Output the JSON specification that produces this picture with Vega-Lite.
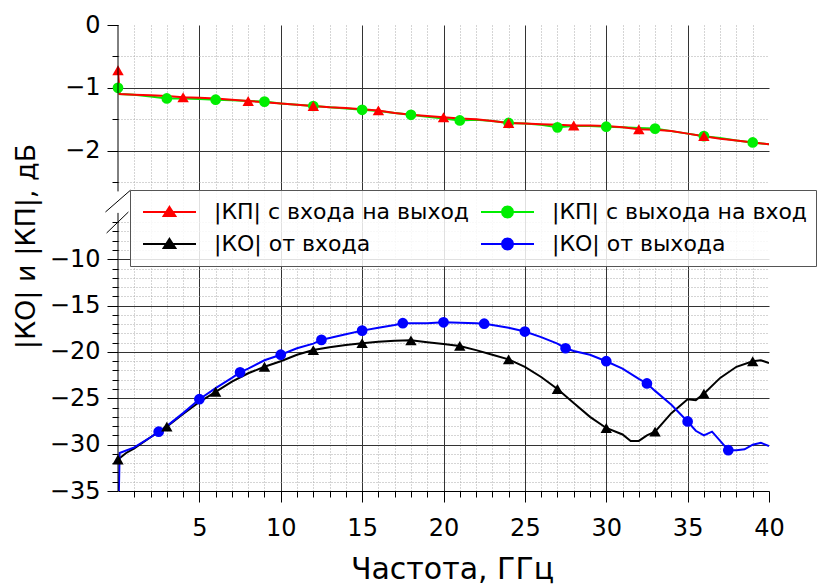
{
  "$schema": "https://vega.github.io/schema/vega-lite/v6.json",
  "width": 651,
  "height": 466,
  "autosize": {"type": "none"},
  "padding": {"left": 118, "top": 25, "right": 52, "bottom": 94},
  "background": "white",
  "config": {"view": {"stroke": null}, "font": "DejaVu Sans"},
  "datasets": {
    "curves": [
      {"s":"|КП| с выхода на вход","f":0,"v":-1.0},{"s":"|КП| с выхода на вход","f":0.1,"v":-1.1},{"s":"|КП| с выхода на вход","f":1,"v":-1.11},{"s":"|КП| с выхода на вход","f":2,"v":-1.14},{"s":"|КП| с выхода на вход","f":3,"v":-1.17},{"s":"|КП| с выхода на вход","f":4,"v":-1.17},{"s":"|КП| с выхода на вход","f":5,"v":-1.18},{"s":"|КП| с выхода на вход","f":6,"v":-1.19},{"s":"|КП| с выхода на вход","f":7,"v":-1.2},{"s":"|КП| с выхода на вход","f":8,"v":-1.21},{"s":"|КП| с выхода на вход","f":9,"v":-1.22},{"s":"|КП| с выхода на вход","f":10,"v":-1.25},{"s":"|КП| с выхода на вход","f":11,"v":-1.27},{"s":"|КП| с выхода на вход","f":12,"v":-1.29},{"s":"|КП| с выхода на вход","f":13,"v":-1.31},{"s":"|КП| с выхода на вход","f":14,"v":-1.33},{"s":"|КП| с выхода на вход","f":15,"v":-1.35},{"s":"|КП| с выхода на вход","f":16,"v":-1.37},{"s":"|КП| с выхода на вход","f":17,"v":-1.4},{"s":"|КП| с выхода на вход","f":18,"v":-1.43},{"s":"|КП| с выхода на вход","f":19,"v":-1.46},{"s":"|КП| с выхода на вход","f":20,"v":-1.49},{"s":"|КП| с выхода на вход","f":21,"v":-1.52},{"s":"|КП| с выхода на вход","f":22,"v":-1.51},{"s":"|КП| с выхода на вход","f":23,"v":-1.53},{"s":"|КП| с выхода на вход","f":24,"v":-1.56},{"s":"|КП| с выхода на вход","f":25,"v":-1.57},{"s":"|КП| с выхода на вход","f":26,"v":-1.59},{"s":"|КП| с выхода на вход","f":27,"v":-1.63},{"s":"|КП| с выхода на вход","f":28,"v":-1.61},{"s":"|КП| с выхода на вход","f":29,"v":-1.61},{"s":"|КП| с выхода на вход","f":30,"v":-1.62},{"s":"|КП| с выхода на вход","f":31,"v":-1.63},{"s":"|КП| с выхода на вход","f":32,"v":-1.64},{"s":"|КП| с выхода на вход","f":33,"v":-1.65},{"s":"|КП| с выхода на вход","f":34,"v":-1.69},{"s":"|КП| с выхода на вход","f":35,"v":-1.73},{"s":"|КП| с выхода на вход","f":36,"v":-1.77},{"s":"|КП| с выхода на вход","f":37,"v":-1.8},{"s":"|КП| с выхода на вход","f":38,"v":-1.84},{"s":"|КП| с выхода на вход","f":39,"v":-1.87},{"s":"|КП| с выхода на вход","f":40,"v":-1.9},
      {"s":"|КП| с входа на выход","f":0,"v":-0.72},{"s":"|КП| с входа на выход","f":0.1,"v":-1.1},{"s":"|КП| с входа на выход","f":1,"v":-1.11},{"s":"|КП| с входа на выход","f":2,"v":-1.12},{"s":"|КП| с входа на выход","f":3,"v":-1.13},{"s":"|КП| с входа на выход","f":4,"v":-1.15},{"s":"|КП| с входа на выход","f":5,"v":-1.16},{"s":"|КП| с входа на выход","f":6,"v":-1.17},{"s":"|КП| с входа на выход","f":7,"v":-1.19},{"s":"|КП| с входа на выход","f":8,"v":-1.21},{"s":"|КП| с входа на выход","f":9,"v":-1.23},{"s":"|КП| с входа на выход","f":10,"v":-1.25},{"s":"|КП| с входа на выход","f":11,"v":-1.27},{"s":"|КП| с входа на выход","f":12,"v":-1.29},{"s":"|КП| с входа на выход","f":13,"v":-1.31},{"s":"|КП| с входа на выход","f":14,"v":-1.32},{"s":"|КП| с входа на выход","f":15,"v":-1.34},{"s":"|КП| с входа на выход","f":16,"v":-1.36},{"s":"|КП| с входа на выход","f":17,"v":-1.4},{"s":"|КП| с входа на выход","f":18,"v":-1.43},{"s":"|КП| с входа на выход","f":19,"v":-1.45},{"s":"|КП| с входа на выход","f":20,"v":-1.47},{"s":"|КП| с входа на выход","f":21,"v":-1.49},{"s":"|КП| с входа на выход","f":22,"v":-1.5},{"s":"|КП| с входа на выход","f":23,"v":-1.53},{"s":"|КП| с входа на выход","f":24,"v":-1.56},{"s":"|КП| с входа на выход","f":25,"v":-1.57},{"s":"|КП| с входа на выход","f":26,"v":-1.58},{"s":"|КП| с входа на выход","f":27,"v":-1.59},{"s":"|КП| с входа на выход","f":28,"v":-1.6},{"s":"|КП| с входа на выход","f":29,"v":-1.6},{"s":"|КП| с входа на выход","f":30,"v":-1.61},{"s":"|КП| с входа на выход","f":31,"v":-1.63},{"s":"|КП| с входа на выход","f":32,"v":-1.66},{"s":"|КП| с входа на выход","f":33,"v":-1.67},{"s":"|КП| с входа на выход","f":34,"v":-1.69},{"s":"|КП| с входа на выход","f":35,"v":-1.73},{"s":"|КП| с входа на выход","f":36,"v":-1.77},{"s":"|КП| с входа на выход","f":37,"v":-1.81},{"s":"|КП| с входа на выход","f":38,"v":-1.84},{"s":"|КП| с входа на выход","f":39,"v":-1.87},{"s":"|КП| с входа на выход","f":40,"v":-1.9},
      {"s":"|КО| от входа","f":0,"v":-31.6},{"s":"|КО| от входа","f":0.5,"v":-30.9},{"s":"|КО| от входа","f":1,"v":-30.4},{"s":"|КО| от входа","f":2,"v":-29.2},{"s":"|КО| от входа","f":3,"v":-28.05},{"s":"|КО| от входа","f":4,"v":-26.7},{"s":"|КО| от входа","f":5,"v":-25.4},{"s":"|КО| от входа","f":6,"v":-24.3},{"s":"|КО| от входа","f":7,"v":-23.2},{"s":"|КО| от входа","f":8,"v":-22.3},{"s":"|КО| от входа","f":9,"v":-21.6},{"s":"|КО| от входа","f":10,"v":-21.0},{"s":"|КО| от входа","f":11,"v":-20.3},{"s":"|КО| от входа","f":12,"v":-19.8},{"s":"|КО| от входа","f":13,"v":-19.5},{"s":"|КО| от входа","f":14,"v":-19.25},{"s":"|КО| от входа","f":15,"v":-19.05},{"s":"|КО| от входа","f":16,"v":-18.9},{"s":"|КО| от входа","f":17,"v":-18.8},{"s":"|КО| от входа","f":18,"v":-18.75},{"s":"|КО| от входа","f":19,"v":-18.95},{"s":"|КО| от входа","f":20,"v":-19.15},{"s":"|КО| от входа","f":21,"v":-19.35},{"s":"|КО| от входа","f":22,"v":-19.8},{"s":"|КО| от входа","f":23,"v":-20.3},{"s":"|КО| от входа","f":24,"v":-20.8},{"s":"|КО| от входа","f":25,"v":-21.6},{"s":"|КО| от входа","f":26,"v":-22.7},{"s":"|КО| от входа","f":27,"v":-24.0},{"s":"|КО| от входа","f":28,"v":-25.5},{"s":"|КО| от входа","f":29,"v":-27.0},{"s":"|КО| от входа","f":30,"v":-28.2},{"s":"|КО| от входа","f":31,"v":-28.9},{"s":"|КО| от входа","f":31.5,"v":-29.6},{"s":"|КО| от входа","f":32,"v":-29.6},{"s":"|КО| от входа","f":32.5,"v":-29.0},{"s":"|КО| от входа","f":33,"v":-28.6},{"s":"|КО| от входа","f":34,"v":-26.6},{"s":"|КО| от входа","f":35,"v":-25.1},{"s":"|КО| от входа","f":35.5,"v":-25.2},{"s":"|КО| от входа","f":36,"v":-24.5},{"s":"|КО| от входа","f":37,"v":-22.8},{"s":"|КО| от входа","f":38,"v":-21.6},{"s":"|КО| от входа","f":39,"v":-21.0},{"s":"|КО| от входа","f":39.5,"v":-20.9},{"s":"|КО| от входа","f":40,"v":-21.2},
      {"s":"|КО| от выхода","f":0,"v":-40},{"s":"|КО| от выхода","f":0.1,"v":-30.9},{"s":"|КО| от выхода","f":1,"v":-30.3},{"s":"|КО| от выхода","f":2,"v":-29.2},{"s":"|КО| от выхода","f":2.5,"v":-28.6},{"s":"|КО| от выхода","f":3,"v":-28.0},{"s":"|КО| от выхода","f":4,"v":-26.6},{"s":"|КО| от выхода","f":5,"v":-25.1},{"s":"|КО| от выхода","f":6,"v":-23.9},{"s":"|КО| от выхода","f":7,"v":-22.8},{"s":"|КО| от выхода","f":7.5,"v":-22.2},{"s":"|КО| от выхода","f":8,"v":-21.8},{"s":"|КО| от выхода","f":9,"v":-20.9},{"s":"|КО| от выхода","f":10,"v":-20.3},{"s":"|КО| от выхода","f":11,"v":-19.6},{"s":"|КО| от выхода","f":12,"v":-19.1},{"s":"|КО| от выхода","f":12.5,"v":-18.7},{"s":"|КО| от выхода","f":13,"v":-18.5},{"s":"|КО| от выхода","f":14,"v":-18.1},{"s":"|КО| от выхода","f":15,"v":-17.7},{"s":"|КО| от выхода","f":16,"v":-17.4},{"s":"|КО| от выхода","f":17,"v":-17.1},{"s":"|КО| от выхода","f":17.5,"v":-16.9},{"s":"|КО| от выхода","f":18,"v":-16.9},{"s":"|КО| от выхода","f":19,"v":-16.9},{"s":"|КО| от выхода","f":20,"v":-16.8},{"s":"|КО| от выхода","f":21,"v":-16.85},{"s":"|КО| от выхода","f":22,"v":-16.9},{"s":"|КО| от выхода","f":22.5,"v":-16.95},{"s":"|КО| от выхода","f":23,"v":-17.1},{"s":"|КО| от выхода","f":24,"v":-17.4},{"s":"|КО| от выхода","f":25,"v":-17.8},{"s":"|КО| от выхода","f":26,"v":-18.4},{"s":"|КО| от выхода","f":27,"v":-19.1},{"s":"|КО| от выхода","f":27.5,"v":-19.6},{"s":"|КО| от выхода","f":28,"v":-19.9},{"s":"|КО| от выхода","f":29,"v":-20.3},{"s":"|КО| от выхода","f":30,"v":-21.0},{"s":"|КО| от выхода","f":31,"v":-21.8},{"s":"|КО| от выхода","f":32,"v":-22.9},{"s":"|КО| от выхода","f":32.5,"v":-23.4},{"s":"|КО| от выхода","f":33,"v":-24.2},{"s":"|КО| от выхода","f":34,"v":-25.7},{"s":"|КО| от выхода","f":35,"v":-27.5},{"s":"|КО| от выхода","f":35.5,"v":-28.5},{"s":"|КО| от выхода","f":36,"v":-29.0},{"s":"|КО| от выхода","f":36.5,"v":-28.6},{"s":"|КО| от выхода","f":37,"v":-29.6},{"s":"|КО| от выхода","f":37.5,"v":-30.6},{"s":"|КО| от выхода","f":38,"v":-30.6},{"s":"|КО| от выхода","f":38.5,"v":-30.5},{"s":"|КО| от выхода","f":39,"v":-30.0},{"s":"|КО| от выхода","f":39.5,"v":-29.8},{"s":"|КО| от выхода","f":40,"v":-30.15}
    ],
    "frame": [
      {"x": 0, "x2": 0, "y": 0, "y2": -2.65},
      {"x": 0, "x2": 0, "y": -5, "y2": -35},
      {"x": -0.77, "x2": 0.77, "y": -4.9, "y2": -2.63},
      {"x": -0.7, "x2": 0.64, "y": -7.17, "y2": -4.9}
    ]
  },
  "layer": [
    {
      "data": {"name": "curves"},
      "mark": {"type": "line", "strokeWidth": 2, "clip": true},
      "encoding": {
        "x": {"field": "f", "type": "quantitative",
          "scale": {"domain": [0, 40], "nice": false, "zero": false},
          "axis": {"orient": "bottom", "values": [5, 10, 15, 20, 25, 30, 35, 40], "grid": false,
            "domain": true, "domainColor": "black", "domainWidth": 1,
            "ticks": true, "tickSize": 11, "tickColor": "black", "tickWidth": 1,
            "labelFont": "DejaVu Sans", "labelFontSize": 24, "labelColor": "black", "labelPadding": 14,
            "labelFlush": false, "labelOverlap": false,
            "title": "Частота, ГГц", "titleFont": "DejaVu Sans", "titleFontSize": 30, "titleFontWeight": "normal",
            "titleColor": "black", "titleX": 334, "titleY": 87, "titleAlign": "center", "titleBaseline": "alphabetic", "titleAngle": 0}},
        "y": {"field": "v", "type": "quantitative",
          "scale": {"domain": [-35, -5, -2.65, 0], "range": [466, 187.9, 166.4, 0], "nice": false, "zero": false},
          "axis": {"orient": "left", "values": [0, -1, -2, -10, -15, -20, -25, -30, -35], "grid": false,
            "domain": false, "ticks": true, "tickSize": 11, "tickColor": "black", "tickWidth": 1,
            "labelFont": "DejaVu Sans", "labelFontSize": 24, "labelColor": "black", "labelPadding": 7,
            "labelFlush": false, "labelOverlap": false,
            "title": "|КО| и |КП|, дБ", "titleFont": "DejaVu Sans", "titleFontSize": 27, "titleFontWeight": "normal",
            "titleColor": "black", "titleAngle": 270, "titleX": -84, "titleY": 221, "titleAlign": "center", "titleBaseline": "alphabetic"}},
        "color": {"field": "s", "type": "nominal",
          "scale": {"domain": ["|КП| с входа на выход", "|КП| с выхода на вход", "|КО| от входа", "|КО| от выхода"],
                    "range": ["#ff0000", "#00ee00", "#000000", "#0000ff"]},
          "legend": {"orient": "none", "legendX": 12, "legendY": 165, "columns": 2, "direction": "horizontal", "title": null,
            "padding": 8, "fillColor": "rgba(255,255,255,0.85)", "strokeColor": "#555",
            "labelFont": "DejaVu Sans", "labelFontSize": 22, "labelColor": "black", "labelOffset": 17, "labelLimit": 600,
            "symbolSize": 2809, "symbolStrokeWidth": 2, "symbolOffset": 4,
            "columnPadding": 6, "rowPadding": 4, "clipHeight": 28,
            "encode": {"symbols": {"update": {
              "shape": {"signal": "(datum.value == '|КП| с входа на выход' || datum.value == '|КО| от входа') ? 'M-1,0L1,0M0,-0.19L0.22,0.15L-0.22,0.15Z' : 'M-1,0L1,0M0.21,0L0.182,0.105L0.105,0.182L0,0.21L-0.105,0.182L-0.182,0.105L-0.21,0L-0.182,-0.105L-0.105,-0.182L0,-0.21L0.105,-0.182L0.182,-0.105Z'"},
              "fill": {"signal": "scale('color', datum.value)"},
              "stroke": {"signal": "scale('color', datum.value)"},
              "opacity": {"value": 1}}}}}}
      }
    },
    {
      "data": {"name": "curves"},
      "transform": [{"filter": "(datum.s == '|КП| с выхода на вход' && datum.f % 3 == 0) || (datum.s == '|КО| от выхода' && datum.f % 2.5 == 0 && datum.f > 0 && datum.f < 40)"}],
      "mark": {"type": "point", "shape": "circle", "filled": true, "size": 115, "opacity": 1},
      "encoding": {
        "x": {"field": "f", "type": "quantitative",
          "axis": {"orient": "bottom", "values": [1,2,3,4,6,7,8,9,11,12,13,14,16,17,18,19,21,22,23,24,26,27,28,29,31,32,33,34,36,37,38,39],
            "grid": true, "gridColor": "#aaaaaa", "gridDash": [1, 2], "gridWidth": 1,
            "domain": false, "ticks": true, "tickSize": 6, "tickColor": "black", "tickWidth": 1, "labels": false, "title": null}},
        "y": {"field": "v", "type": "quantitative",
          "axis": {"orient": "left", "values": [-0.5,-1.5,-2.5,-6,-7,-8,-9,-11,-12,-13,-14,-16,-17,-18,-19,-21,-22,-23,-24,-26,-27,-28,-29,-31,-32,-33,-34],
            "grid": true, "gridColor": "#aaaaaa", "gridDash": [1, 2], "gridWidth": 1,
            "domain": false, "ticks": true, "tickSize": 6, "tickColor": "black", "tickWidth": 1, "labels": false, "title": null}},
        "fill": {"field": "s", "type": "nominal",
          "scale": {"domain": ["|КП| с входа на выход", "|КП| с выхода на вход", "|КО| от входа", "|КО| от выхода"],
                    "range": ["#ff0000", "#00ee00", "#000000", "#0000ff"]},
          "legend": null}
      }
    },
    {
      "data": {"name": "curves"},
      "transform": [{"filter": "(datum.s == '|КП| с входа на выход' && datum.f % 4 == 0 && datum.f < 40) || (datum.s == '|КО| от входа' && datum.f % 3 == 0)"}],
      "mark": {"type": "point", "shape": "triangle-up", "filled": true, "size": 130, "opacity": 1},
      "encoding": {
        "x": {"field": "f", "type": "quantitative",
          "axis": {"orient": "bottom", "values": [5, 10, 15, 20, 25, 30, 35],
            "grid": true, "gridColor": "#333333", "gridWidth": 1,
            "domain": false, "ticks": false, "labels": false, "title": null}},
        "y": {"field": "v", "type": "quantitative",
          "axis": {"orient": "left", "values": [-1, -2, -10, -15, -20, -25, -30],
            "grid": true, "gridColor": "#333333", "gridWidth": 1,
            "domain": false, "ticks": false, "labels": false, "title": null}},
        "fill": {"field": "s", "type": "nominal", "legend": null}
      }
    },
    {
      "data": {"name": "frame"},
      "mark": {"type": "rule", "color": "black", "strokeWidth": 1},
      "encoding": {
        "x": {"field": "x", "type": "quantitative", "axis": null},
        "x2": {"field": "x2"},
        "y": {"field": "y", "type": "quantitative", "axis": null},
        "y2": {"field": "y2"}
      }
    }
  ],
  "resolve": {"axis": {"x": "independent", "y": "independent"}}
}
